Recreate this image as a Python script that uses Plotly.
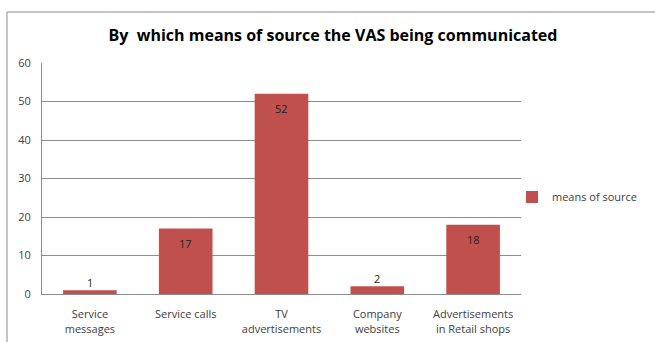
import plotly.graph_objects as go

# Survey: how the VAS (value-added services) were communicated
categories = [
    "Service<br>messages",
    "Service calls",
    "TV<br>advertisements",
    "Company<br>websites",
    "Advertisements<br>in Retail shops",
]
counts = [1, 17, 52, 2, 18]
series_name = "means of source"
y_ticks = [0, 10, 20, 30, 40, 50, 60]

BAR = "#C0504D"
GRID = "#8C8C8C"
TXT = "#404040"
FONT = "Open Sans"

W, H = 655, 342
L, R, T, B = 42, 134, 63, 48
pw, ph = W - L - R, H - T - B

fig = go.Figure()
fig.add_trace(go.Bar(
    x=categories, y=counts, name=series_name,
    marker=dict(color=BAR, line=dict(width=0)),
    showlegend=True,
))

# Value labels: inside the bar near its top, or just above very short bars
for c, v in zip(categories, counts):
    inside = v >= 10
    fig.add_annotation(
        x=c, y=v, xref="x", yref="y", text=str(v), showarrow=False,
        yshift=-15 if inside else 8,
        font=dict(family=FONT, size=11, color="#222222"),
    )

# Chart frame (left and top edges)
px = lambda x: (x - L) / pw
py = lambda y: (H - B - y) / ph
fig.add_shape(type="line", xref="paper", yref="paper",
              x0=px(7), x1=px(7), y0=py(H + 5), y1=py(12),
              line=dict(color=GRID, width=1))
fig.add_shape(type="line", xref="paper", yref="paper",
              x0=px(7), x1=px(W + 5), y0=py(12), y1=py(12),
              line=dict(color=GRID, width=1))

fig.update_layout(
    width=W, height=H,
    margin=dict(l=L, r=R, t=T, b=B, autoexpand=False),
    paper_bgcolor="white", plot_bgcolor="white",
    bargap=0.44,
    title=dict(
        text="<b>By\u00a0 which means of source the VAS being communicated</b>",
        x=333 / W, xanchor="center", y=1 - 35 / H, yanchor="middle",
        xref="container", yref="container",
        font=dict(family=FONT, size=16, color="#000000"),
    ),
    legend=dict(
        x=px(512), y=py(197), xanchor="left", yanchor="middle",
        font=dict(family=FONT, size=11, color=TXT),
        bgcolor="rgba(0,0,0,0)", itemwidth=30,
    ),
    xaxis=dict(
        showline=True, linecolor=GRID, linewidth=1,
        ticks="", ticklabelstandoff=10,
        tickfont=dict(family=FONT, size=11, color=TXT),
        showgrid=False, fixedrange=True,
    ),
    yaxis=dict(
        range=[0, 60], tickvals=y_ticks,
        showline=True, linecolor=GRID, linewidth=1,
        showgrid=True, gridcolor=GRID, gridwidth=1,
        ticks="", ticklabelstandoff=8,
        tickfont=dict(family=FONT, size=11, color=TXT),
        zeroline=False,
    ),
)

fig.write_html("out.html")
